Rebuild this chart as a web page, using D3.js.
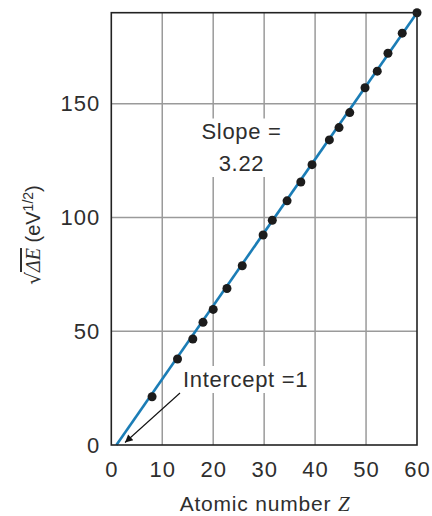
<!DOCTYPE html>
<html>
<head>
<meta charset="utf-8">
<script src="https://cdn.jsdelivr.net/npm/d3@7"></script>
<style>
  body { margin: 0; background: #fff; }
  text { font-family: "Liberation Sans", Arial, sans-serif; fill: #2e2e2e; }
</style>
</head>
<body>
<div id="chart"></div>
<script>
// atomic number Z of each measured element
var atomicZ = [8, 13, 16, 18, 20, 22.7, 25.7, 29.8, 31.6, 34.5, 37.2, 39.4, 42.8, 44.7, 46.8, 49.8, 52.2, 54.3, 57.1, 60];
// sqrt of photon energy (eV^1/2)
var sqrtE = [21.2, 37.8, 46.6, 53.9, 59.6, 68.8, 78.8, 92.3, 98.8, 107.3, 115.6, 123.2, 134.1, 139.5, 146.1, 157.0, 164.3, 172.2, 181.0, 190.0];
var xTicks = [0, 10, 20, 30, 40, 50, 60];
var yTicks = [0, 50, 100, 150];
var slope = 3.22, intercept = 1;

var margin = {top: 12.7, right: 15, bottom: 71, left: 111.3};
var W = 432, H = 516;
var width = W - margin.left - margin.right,
    height = H - margin.top - margin.bottom;

var svg = d3.select("#chart").append("svg")
    .attr("width", W)
    .attr("height", H);

var g = svg.append("g")
    .attr("transform", "translate(" + margin.left + "," + margin.top + ")");

var x = d3.scaleLinear().domain([0, 60]).range([0, width]);
var y = d3.scaleLinear().domain([0, 190]).range([height, 0]);

// grid
g.selectAll(".vgrid")
    .data(xTicks.slice(1, -1))
    .enter().append("line")
    .attr("x1", function (d) { return x(d); })
    .attr("x2", function (d) { return x(d); })
    .attr("y1", 0).attr("y2", height)
    .style("stroke", "#9a9a9a").style("stroke-width", 1.5);

g.selectAll(".hgrid")
    .data(yTicks.slice(1))
    .enter().append("line")
    .attr("y1", function (d) { return y(d); })
    .attr("y2", function (d) { return y(d); })
    .attr("x1", 0).attr("x2", width)
    .style("stroke", "#9a9a9a").style("stroke-width", 1.5);

// fit line
var fit = [intercept, 60].map(function (z) { return [z, slope * (z - intercept)]; });
g.append("path")
    .datum(fit)
    .attr("d", d3.line().x(function (d) { return x(d[0]); }).y(function (d) { return y(d[1]); }))
    .style("stroke", "#1b7db6").style("stroke-width", 2.6).style("fill", "none");

// annotations with white background
function label(lines, cx, y0, lh, anchor) {
    var t = g.append("text")
        .attr("text-anchor", anchor)
        .style("font-size", "22px")
        .style("letter-spacing", "0.7px");
    lines.forEach(function (s, i) {
        t.append("tspan").attr("x", cx).attr("y", y0 + i * lh).text(s);
    });
    var b = t.node().getBBox();
    g.insert("rect", "text")
        .attr("x", b.x - 3).attr("y", b.y - 1)
        .attr("width", b.width + 6).attr("height", b.height + 2)
        .style("fill", "#fff");
}
label(["Slope =", "3.22"], 241.5 - margin.left, 139.5 - margin.top, 31.5, "middle");
label(["Intercept =1"], 183 - margin.left, 387 - margin.top, 0, "start");

// arrow
svg.append("defs").append("marker")
    .attr("id", "arr")
    .attr("viewBox", "0 0 10 10")
    .attr("refX", 10).attr("refY", 5)
    .attr("markerWidth", 9).attr("markerHeight", 7)
    .attr("orient", "auto")
    .append("path").attr("d", "M0,0 L10,5 L0,10 Z").style("fill", "#111");

g.append("line")
    .attr("x1", 180 - margin.left).attr("y1", 393 - margin.top)
    .attr("x2", 125 - margin.left).attr("y2", 442.5 - margin.top)
    .style("stroke", "#111").style("stroke-width", 1.1)
    .attr("marker-end", "url(#arr)");

// points
g.selectAll(".dot")
    .data(atomicZ)
    .enter().append("circle")
    .attr("cx", function (d) { return x(d); })
    .attr("cy", function (d, i) { return y(sqrtE[i]); })
    .attr("r", 4.5)
    .style("fill", "#1c1c1c");

// frame
g.append("rect")
    .attr("width", width).attr("height", height)
    .style("fill", "none").style("stroke", "#222").style("stroke-width", 1.6);

// axes
var xAxis = d3.axisBottom(x).tickValues(xTicks).tickSize(0).tickPadding(16);
var gx = g.append("g").attr("transform", "translate(0," + height + ")").call(xAxis);
var yAxis = d3.axisLeft(y).tickValues(yTicks).tickSize(0).tickPadding(11);
var gy = g.append("g").call(yAxis);
[gx, gy].forEach(function (a) {
    a.select(".domain").remove();
    a.selectAll("text").style("font-size", "22px").style("letter-spacing", "1px")
        .style("font-family", "Liberation Sans, Arial, sans-serif").attr("fill", "#2e2e2e");
});

// axis titles
var xt = svg.append("text")
    .attr("x", 265).attr("y", 511)
    .attr("text-anchor", "middle")
    .style("font-size", "21px")
    .style("letter-spacing", "0.8px");
xt.append("tspan").text("Atomic number ");
xt.append("tspan").text("Z").style("font-family", "Liberation Serif, serif").style("font-style", "italic");

var yt = svg.append("text")
    .attr("transform", "translate(40,235) rotate(-90)")
    .attr("text-anchor", "middle")
    .style("font-size", "20px");
yt.append("tspan").text("√").style("font-family", "DejaVu Sans, sans-serif");
yt.append("tspan").text("ΔE").style("font-family", "Liberation Serif, serif").style("font-style", "italic")
    .style("text-decoration", "overline");
yt.append("tspan").text(" (eV");
yt.append("tspan").text("1/2").attr("dy", -7).style("font-size", "14px");
yt.append("tspan").text(")").attr("dy", 7);
</script>
</body>
</html>
